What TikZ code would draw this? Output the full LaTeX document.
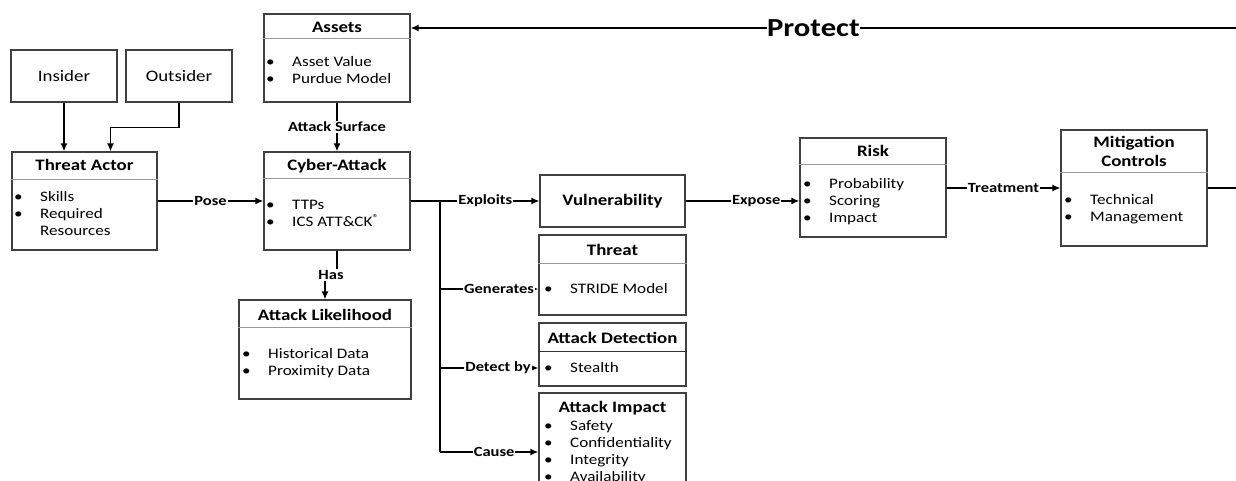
\documentclass[tikz,border=0pt]{standalone}
\usepackage{fontspec}
\setmainfont{Carlito}[FakeStretch=1.18]
\usetikzlibrary{arrows.meta}
\newcommand\blist[1]{\begin{tabular}[t]{@{}p{26pt}@{}l@{}}#1\end{tabular}}

\begin{document}
\begin{tikzpicture}[x=1pt, y=-1pt,
    box/.style={draw=black!75, line width=1.2pt, inner sep=0pt},
    sep/.style={draw=black!40, line width=0.9pt},
    ttl/.style={anchor=base, inner sep=0pt, font=\bfseries\fontsize{16}{19}\selectfont},
    items/.style={anchor=base west, inner sep=0pt, font=\fontsize{14.5}{17}\selectfont},
    lbl/.style={fill=white, inner sep=1pt, font=\bfseries\fontsize{14}{16}\selectfont},
    con/.style={line width=1.5pt},
    arr/.style={con, -{Latex[length=8pt,width=7pt]}}]
    \useasboundingbox (0,0) rectangle (1236,481);
    \clip (0,0) rectangle (1236,481);

    % boxes
    \node[box, minimum width=106, minimum height=52, font=\fontsize{16}{19}\selectfont] (ins) at (64,76) {Insider};
    \node[box, minimum width=106, minimum height=52, font=\fontsize{16}{19}\selectfont] (out) at (179,76) {Outsider};
    \node[box, minimum width=146, minimum height=88] (as) at (337,58) {};
    \node[box, minimum width=145, minimum height=98] (ta) at (84.5,201) {};
    \node[box, minimum width=146, minimum height=98] (ca) at (337,201) {};
    \node[box, minimum width=172, minimum height=99] (al) at (325,349.5) {};
    \node[box, minimum width=145, minimum height=52, font=\bfseries\fontsize{16}{19}\selectfont] (vul) at (612.5,201) {Vulnerability};
    \node[box, minimum width=147, minimum height=80] (thr) at (612.5,275) {};
    \node[box, minimum width=147, minimum height=63] (ad) at (612.5,354.5) {};
    \node[box, minimum width=147, minimum height=102] (imp) at (612.5,444) {};
    \node[box, minimum width=146, minimum height=99] (rsk) at (873,187.5) {};
    \node[box, minimum width=146, minimum height=116] (mit) at (1134,188) {};

    % headers
    \draw[sep] (as.west |- 0,38) -- (as.east |- 0,38);
    \draw[sep] (ta.west |- 0,179) -- (ta.east |- 0,179);
    \draw[sep] (ca.west |- 0,178) -- (ca.east |- 0,178);
    \draw[sep] (al.west |- 0,327) -- (al.east |- 0,327);
    \draw[sep] (thr.west |- 0,263) -- (thr.east |- 0,263);
    \draw[sep, draw=black!80] (ad.west |- 0,351) -- (ad.east |- 0,351);
    \draw[sep] (rsk.west |- 0,164) -- (rsk.east |- 0,164);
    \draw[sep] (mit.west |- 0,172) -- (mit.east |- 0,172);

    \node[ttl] (asT) at (337,33) {Assets};
    \node[ttl] (taT) at (84.5,171) {Threat Actor};
    \node[ttl] (caT) at (337,171) {Cyber-Attack};
    \node[ttl] (alT) at (325,320) {Attack Likelihood};
    \node[ttl] (thrT) at (612.5,255) {Threat};
    \node[ttl] (adT) at (612.5,343) {Attack Detection};
    \node[ttl] (impT) at (612.5,412) {Attack Impact};
    \node[ttl] (rskT) at (873,157) {Risk};
    \node[ttl] (mitT) at (1134,148) {\begin{tabular}[t]{@{}c@{}}Mitigation\\Controls\end{tabular}};

    % contents
    \node[items] (asL) at (266,66.5) {\blist{\textbullet & Asset Value\\ \textbullet & Purdue Model}};
    \node[items] (taL) at (14,201.5) {\blist{\textbullet & Skills\\ \textbullet & Required\\ & Resources}};
    \node[items] (caL) at (266,209.5) {\blist{\textbullet & TTPs\\ \textbullet & ICS ATT\&CK\textsuperscript{®}}};
    \node[items] (alL) at (242,358.5) {\blist{\textbullet & Historical Data\\ \textbullet & Proximity Data}};
    \node[items] (thrL) at (544,293.5) {\blist{\textbullet & STRIDE Model}};
    \node[items] (adL) at (544,372.5) {\blist{\textbullet & Stealth}};
    \node[items] (impL) at (544,430.5) {\blist{\textbullet & Safety\\ \textbullet & Confidentiality\\ \textbullet & Integrity\\ \textbullet & Availability}};
    \node[items] (rskL) at (803,188.5) {\blist{\textbullet & Probability\\ \textbullet & Scoring\\ \textbullet & Impact}};
    \node[items] (mitL) at (1064,204.5) {\blist{\textbullet & Technical\\ \textbullet & Management}};

    % connectors
    \coordinate (pedge) at (1236,28);
    \coordinate (medge) at (1236,188);
    \coordinate (bus) at (440,201);
    \coordinate (gen) at (440,289);
    \coordinate (det) at (440,368);
    \coordinate (busend) at (440,452);

    \draw[arr] (ins) -- (ins |- ta.north);
    \draw[arr] (out.south) -- ++(0,25) -| ([xshift=26]ta.north);
    \draw[arr] (as) -- node[lbl]{Attack Surface} (ca);
    \draw[arr] (ta) -- node[lbl]{Pose} (ca);
    \node[lbl] (has) at (331,275) {Has};
    \draw[con] (ca.south) -- (ca.south |- has.north);
    \draw[arr] (al.north |- has.south) -- (al.north);
    \draw[arr] (ca) -- node[lbl, pos=0.58]{Exploits} (vul);
    \draw[con] (bus) -- (busend);
    \draw[arr] (gen) -- node[lbl, pos=0.6]{Generates} (thr.west |- gen);
    \draw[arr] (det) -- node[lbl, pos=0.59]{Detect by} (ad.west |- det);
    \draw[arr] (busend) -- node[lbl, pos=0.55]{Cause} (imp.west |- busend);
    \draw[arr] (vul) -- node[lbl, pos=0.62]{Expose} (rsk.west |- vul);
    \draw[arr] (rsk.east |- mit) -- node[lbl]{Treatment} (mit);
    \draw[con] (mit) -- (medge);
    \draw[arr] (pedge) -- node[lbl, pos=0.512, inner sep=0pt, font=\bfseries\fontsize{26}{30}\selectfont]{Protect} (as.east |- pedge);
\end{tikzpicture}
\end{document}
